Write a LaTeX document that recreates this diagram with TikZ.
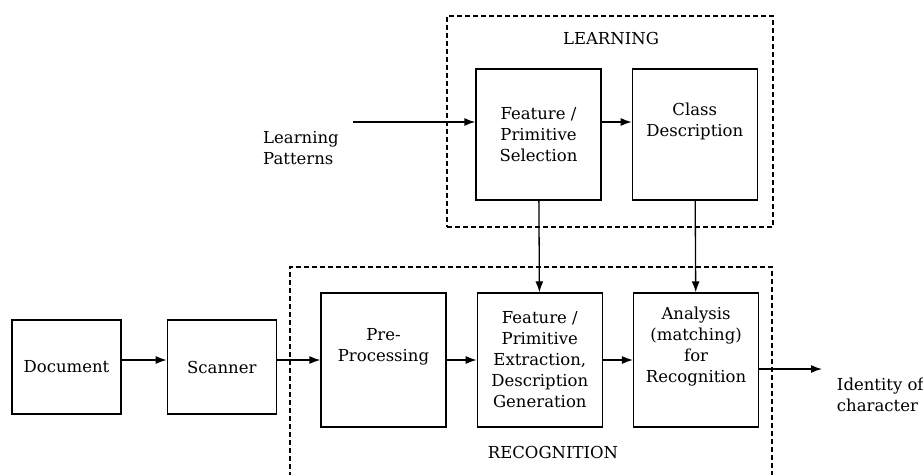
\documentclass[tikz,border=0pt]{standalone}
\usepackage{fontspec}
\setmainfont{DejaVu Serif}
\usetikzlibrary{positioning,arrows.meta}

% pushes a box text upwards
\newcommand{\lift}{\\[9pt]\mbox{}}

\begin{document}
\begin{tikzpicture}[x=1pt, y=1pt, ->, >={Latex[length=11pt,width=8pt]}, line width=1.3pt, font=\fontsize{16.5}{21}\selectfont, block/.style = {rectangle, draw, minimum width=125, minimum height=134, align=center, inner sep=0pt}, smallblock/.style = {block, minimum width=109, minimum height=94}, group/.style = {rectangle, draw, dash pattern=on 5pt off 3pt, inner sep=0pt}]

\path[use as bounding box, clip] (0,0) rectangle (923,-474);

% recognition chain
\node[smallblock] (doc) at (66.5,-367) {Document};
\node[smallblock] (scan) [right = 45 of doc] {Scanner};
\node[block] (pre) at (383.5,-360) {Pre-\\Processing\lift};
\node[block] (fext) [right = 30 of pre] {Feature /\\Primitive\\Extraction,\\Description\\Generation};
\node[block] (anal) [right = 30 of fext] {Analysis\\(matching)\\for\\Recognition\lift};

% learning part
\node[block, minimum height=131] (fsel) at (538.5,-134.5) {Feature /\\Primitive\\Selection};
\node[block, minimum height=131] (cdesc) [right = 30 of fsel] {Class\\Description\lift};

% dashed groups
\node[group, minimum width=326, minimum height=211] (learn) at (610,-121.5) {};
\node (learntxt) at (611,-38) {LEARNING};
\node[group, minimum width=482, minimum height=215] (recog) at (531,-374.5) {};
\node (recogtxt) at (553,-452) {RECOGNITION};

\node[align=left] (pat) at (301,-148) {Learning\\Patterns};
\node[align=left, anchor=west] (ident) at (833,-395) {Identity of\\character};

\coordinate (patstart) at (353,-122);
\coordinate (outend) at (822,-369);

\draw (patstart) -- (fsel.west |- patstart);
\draw (fsel.east |- patstart) -- (cdesc.west |- patstart);
\draw (fsel) -- (fext);
\draw (cdesc) -- (anal);
\draw (doc.east |- pre) -- (scan.west |- pre);
\draw (scan.east |- pre) -- (pre);
\draw (pre) -- (fext);
\draw (fext) -- (anal);
\draw (anal.east |- outend) -- (outend);
\end{tikzpicture}
\end{document}
